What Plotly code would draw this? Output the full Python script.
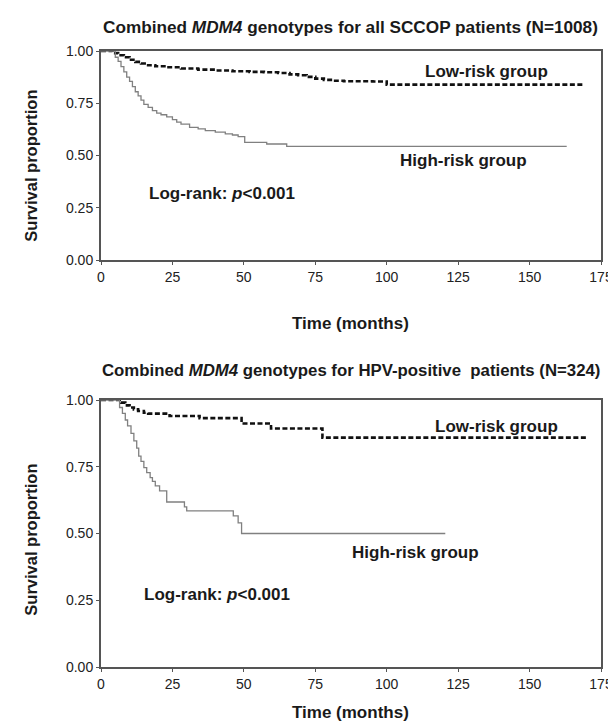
import plotly.graph_objects as go

# ---------------- data ----------------
# Top panel: all SCCOP patients (N=1008)
top_low_t = [0, 4, 6, 8, 10, 12, 14, 16, 19, 23, 28, 34, 40, 46, 52, 57, 62, 66, 69, 72, 75, 78, 81, 85, 90, 95, 100, 169]
top_low_s = [1.0, 0.99, 0.98, 0.97, 0.958, 0.948, 0.94, 0.932, 0.927, 0.922, 0.916, 0.911, 0.907, 0.903, 0.9, 0.898, 0.895, 0.888, 0.884, 0.876, 0.868, 0.862, 0.858, 0.855, 0.855, 0.854, 0.839, 0.839]

top_high_t = [0, 3.5, 5, 6, 7, 8, 9, 10, 11, 12, 13, 14, 15, 16.5, 18, 19.5, 21, 23, 25, 26.5, 28, 31, 34, 36.5, 40, 43.5, 46, 48, 50.3, 58, 65, 163]
top_high_s = [1.0, 1.0, 0.97, 0.95, 0.925, 0.9, 0.875, 0.855, 0.83, 0.805, 0.785, 0.765, 0.745, 0.73, 0.715, 0.703, 0.695, 0.685, 0.672, 0.66, 0.65, 0.635, 0.627, 0.619, 0.612, 0.603, 0.598, 0.59, 0.563, 0.555, 0.544, 0.544]

# Bottom panel: HPV-positive patients (N=324)
bot_low_t = [0, 7, 8.5, 10, 11.5, 13, 15, 16.5, 24, 34.5, 49.2, 59.5, 77.5, 170]
bot_low_s = [1.0, 0.99, 0.98, 0.972, 0.965, 0.959, 0.952, 0.949, 0.94, 0.932, 0.912, 0.893, 0.859, 0.859]

bot_high_t = [0, 5.8, 6.5, 7.5, 8.5, 9.3, 10.5, 11.5, 12.5, 13.2, 14, 15, 16, 17.2, 18, 19, 20.5, 23, 29.2, 30, 46.3, 48, 49.2, 120.5]
bot_high_s = [1.0, 1.0, 0.972, 0.95, 0.925, 0.903, 0.875, 0.847, 0.82, 0.79, 0.77, 0.747, 0.728, 0.709, 0.695, 0.678, 0.66, 0.618, 0.6, 0.585, 0.566, 0.54, 0.5, 0.5]

x_ticks = [0, 25, 50, 75, 100, 125, 150, 175]
y_ticks = [0, 0.25, 0.5, 0.75, 1.0]

top_title = "Combined <i>MDM4</i> genotypes for all SCCOP patients (N=1008)"
bot_title = "Combined <i>MDM4</i> genotypes for HPV-positive  patients (N=324)"
low_label = "Low-risk group"
high_label = "High-risk group"
logrank_label = "Log-rank: <i>p</i><0.001"
x_title = "Time (months)"
y_title = "Survival proportion"

# ---------------- figure ----------------
FONT = "Liberation Sans, Arial, sans-serif"
TXT = "#1a1a1a"
FRAME = "#555555"

W, H = 616, 723
ML, MR, MT, MB = 93, 11, 43, 64
PW = W - ML - MR
PH = H - MT - MB


def py(pix):
    return (H - MB - pix) / PH


def px(pix):
    return (pix - ML) / PW


fig = go.Figure()

low_line = dict(color="#111111", width=2.6, dash="5px,2.5px", shape="hv")
high_line = dict(color="#808080", width=1.3, shape="hv")

fig.add_trace(go.Scatter(x=top_low_t, y=top_low_s, mode="lines", line=low_line,
                         xaxis="x", yaxis="y", showlegend=False))
fig.add_trace(go.Scatter(x=top_high_t, y=top_high_s, mode="lines", line=high_line,
                         xaxis="x", yaxis="y", showlegend=False))
fig.add_trace(go.Scatter(x=bot_low_t, y=bot_low_s, mode="lines", line=low_line,
                         xaxis="x2", yaxis="y2", showlegend=False))
fig.add_trace(go.Scatter(x=bot_high_t, y=bot_high_s, mode="lines", line=high_line,
                         xaxis="x2", yaxis="y2", showlegend=False))

xaxis_common = dict(range=[0, 175], tickvals=x_ticks, showgrid=False, zeroline=False,
                    showline=True, mirror=True, linecolor=FRAME, linewidth=2,
                    ticks="outside", ticklen=3, tickwidth=1, tickcolor=FRAME,
                    tickfont=dict(family=FONT, size=14, color="#222"))
yaxis_common = dict(range=[0, 1], tickvals=y_ticks, tickformat=".2f", showgrid=False,
                    zeroline=False, showline=True, mirror=True, linecolor=FRAME,
                    linewidth=2, ticks="outside", ticklen=3, tickwidth=1, tickcolor=FRAME,
                    tickfont=dict(family=FONT, size=14, color="#222"))

fig.update_layout(
    width=W, height=H,
    margin=dict(l=ML, r=MR, t=MT, b=MB),
    paper_bgcolor="white", plot_bgcolor="white",
    xaxis=dict(domain=[0, 1], anchor="y", **xaxis_common),
    yaxis=dict(domain=[py(252), 1], anchor="x", **yaxis_common),
    xaxis2=dict(domain=[0, 1], anchor="y2", **xaxis_common),
    yaxis2=dict(domain=[0, py(392)], anchor="x2", **yaxis_common),
)

ann = []
ann.append(dict(text="<b>" + top_title + "</b>", x=px(348), y=py(19), xref="paper", yref="paper",
                showarrow=False, font=dict(family=FONT, size=17.2, color=TXT),
                xanchor="center", yanchor="middle"))
ann.append(dict(text="<b>" + bot_title + "</b>", x=px(349), y=py(363), xref="paper", yref="paper",
                showarrow=False, font=dict(family=FONT, size=16.8, color=TXT),
                xanchor="center", yanchor="middle"))
for yy in (315, 704):
    ann.append(dict(text="<b>" + x_title + "</b>", x=px(348), y=py(yy), xref="paper", yref="paper",
                    showarrow=False, font=dict(family=FONT, size=17, color=TXT),
                    xanchor="center", yanchor="middle"))
for yy in (158, 532):
    ann.append(dict(text="<b>" + y_title + "</b>", x=px(21), y=py(yy), xref="paper", yref="paper",
                    showarrow=False, textangle=-90, font=dict(family=FONT, size=16.5, color=TXT),
                    xanchor="center", yanchor="middle"))

labfont = dict(family=FONT, size=17, color=TXT)
# top panel labels
ann.append(dict(text="<b>" + low_label + "</b>", x=135, y=0.904, xref="x", yref="y", showarrow=False,
                font=labfont, xanchor="center", yanchor="middle"))
ann.append(dict(text="<b>" + high_label + "</b>", x=127, y=0.478, xref="x", yref="y", showarrow=False,
                font=labfont, xanchor="center", yanchor="middle"))
ann.append(dict(text="<b>" + logrank_label + "</b>", x=16, y=0.32, xref="x", yref="y", showarrow=False,
                font=dict(family=FONT, size=17, color=TXT), xanchor="left", yanchor="middle"))
# bottom panel labels
ann.append(dict(text="<b>" + low_label + "</b>", x=138.4, y=0.90, xref="x2", yref="y2", showarrow=False,
                font=labfont, xanchor="center", yanchor="middle"))
ann.append(dict(text="<b>" + high_label + "</b>", x=110, y=0.428, xref="x2", yref="y2", showarrow=False,
                font=labfont, xanchor="center", yanchor="middle"))
ann.append(dict(text="<b>" + logrank_label + "</b>", x=14.4, y=0.27, xref="x2", yref="y2", showarrow=False,
                font=dict(family=FONT, size=17, color=TXT), xanchor="left", yanchor="middle"))

fig.update_layout(annotations=ann)

fig.write_html("out.html")
